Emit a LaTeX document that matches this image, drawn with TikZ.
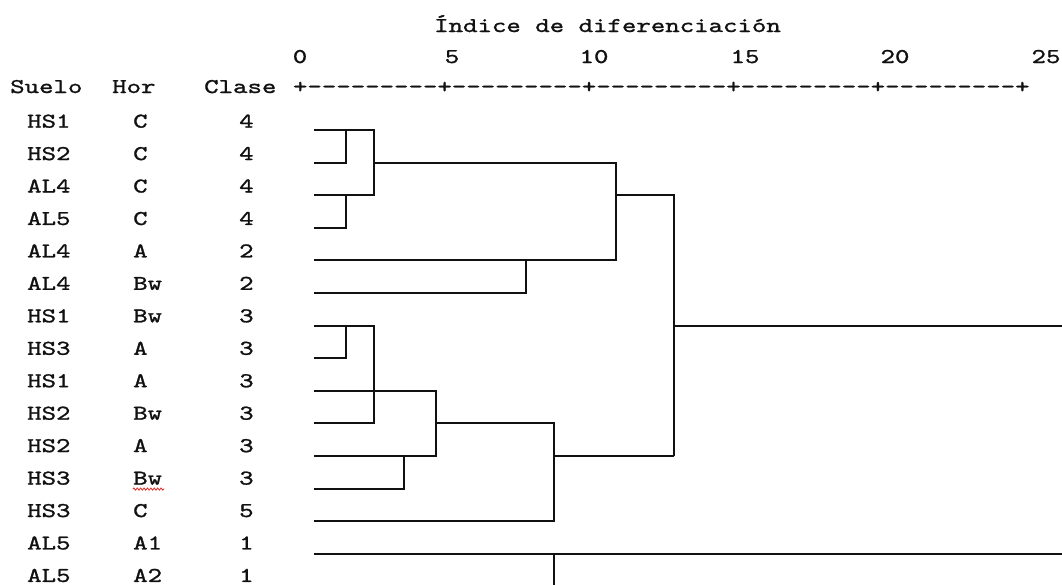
\documentclass[tikz,border=0pt]{standalone}
\usepackage{fontspec}
\usepackage{tikz}
\usetikzlibrary{calc,decorations.pathmorphing}
\newfontfamily\dendrofont{lmmono10-regular}[Extension=.otf,FakeStretch=1.31,FakeBold=1.2]
\definecolor{ink}{HTML}{111111}
\definecolor{paper}{HTML}{FFFFFF}
\definecolor{spellred}{HTML}{E0302A}
\tikzset{
  dendline/.style={draw=ink,line width=2pt,line join=miter},
  rowtext/.style={anchor=base west,inner sep=0pt,text=ink,font=\dendrofont\fontsize{21}{21}\selectfont},
  ticktext/.style={anchor=base,inner sep=0pt,text=ink,font=\dendrofont\fontsize{21}{21}\selectfont},
  squiggle/.style={draw=spellred,line width=0.8pt,decorate,decoration={zigzag,segment length=3.4pt,amplitude=1.1pt}}
}

\begin{document}
\begin{tikzpicture}[x=1pt,y=-1pt]
  \useasboundingbox[fill=paper] (0,0) rectangle (1062,584);
  % header and axis
  \node[rowtext] (ttl) at (434,32) {Índice de diferenciación};
  \foreach \v/\px in {0/300,5/452,10/594,15/745,20/895,25/1046}
    \node[ticktext] (t\v) at (\px,63) {\v};
  \node[rowtext] (hsuelo) at (10,93) {Suelo};
  \node[rowtext] (hhor) at (112,93) {Hor};
  \node[rowtext] (hclase) at (204,93) {Clase};
  \node[rowtext] (axis) at (292.8,93) {+---------+---------+---------+---------+---------+};
  % one row per sample
  \foreach \suelo/\hor/\clase [count=\k from 0] in {HS1/C/4,HS2/C/4,AL4/C/4,AL5/C/4,AL4/A/2,AL4/Bw/2,
      HS1/Bw/3,HS3/A/3,HS1/A/3,HS2/Bw/3,HS2/A/3,HS3/Bw/3,HS3/C/5,AL5/A1/1,AL5/A2/1} {
    \node[rowtext] (s\k) at (27,{127.6+32.45*\k}) {\suelo};
    \node[rowtext] (h\k) at (133,{127.6+32.45*\k}) {\hor};
    \node[rowtext] (c\k) at (239,{127.6+32.45*\k}) {\clase};
    \coordinate (leaf\k) at (314,{130+32.6*\k});
  }
  \draw[squiggle] ([yshift=-4.5pt]h11.base west) -- ([xshift=2pt,yshift=-4.5pt]h11.base east);
  % merge levels
  \foreach \n/\px in {A/346,B/374,C/404,D/436,E/526,F/554,G/616,H/674,R/1062}
    \coordinate (lv\n) at (\px,0);
  % upper group
  \draw[dendline] (leaf1) -| (leaf0 -| lvA);
  \draw[dendline] (leaf3) -| (leaf2 -| lvA);
  \draw[dendline] (leaf0) -- (leaf0 -| lvB) -- (leaf2 -| lvB) -- (leaf2);
  \draw[dendline] (leaf1 -| lvB) -| (leaf4 -| lvG) -- (leaf4);
  \draw[dendline] (leaf5) -| (leaf4 -| lvE);
  \draw[dendline] (leaf2 -| lvG) -| (leaf10 -| lvH);
  % lower group
  \draw[dendline] (leaf7) -| (leaf6 -| lvA);
  \draw[dendline] (leaf6) -- (leaf6 -| lvB) -- (leaf9 -| lvB) -- (leaf9);
  \draw[dendline] (leaf8) -- (leaf8 -| lvD) -- (leaf10 -| lvD) -- (leaf10);
  \draw[dendline] (leaf11) -| (leaf10 -| lvC);
  \draw[dendline] (leaf9 -| lvD) -| (leaf12 -| lvF) -- (leaf12);
  \draw[dendline] (leaf10 -| lvF) -- (leaf10 -| lvH);
  % root and the A1/A2 pair
  \draw[dendline] (leaf6 -| lvH) -- (leaf6 -| lvR);
  \draw[dendline] (leaf13) -- (leaf13 -| lvR);
  \draw[dendline] (leaf14) -| (leaf13 -| lvF);
\end{tikzpicture}
\end{document}
